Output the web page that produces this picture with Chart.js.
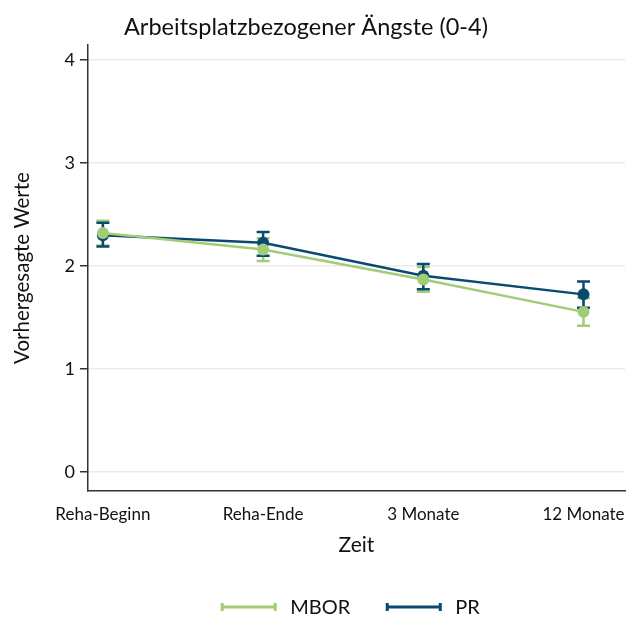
<!DOCTYPE html>
<html>
<head>
<meta charset="utf-8">
<script src="https://cdn.jsdelivr.net/npm/chart.js@4.4.0/dist/chart.umd.min.js"></script>
<style>
  html, body { margin: 0; padding: 0; background: #fff; }
  #wrap { width: 631px; height: 618px; }
</style>
</head>
<body>
<div id="wrap"><canvas id="chart"></canvas></div>
<script>
// Daten
const zeitpunkte = ['Reha-Beginn', 'Reha-Ende', '3 Monate', '12 Monate'];
const mborWerte = [2.32, 2.16, 1.87, 1.555];
const mborUnten = [2.20, 2.05, 1.75, 1.42];
const mborOben  = [2.44, 2.27, 1.99, 1.69];
const prWerte   = [2.30, 2.225, 1.905, 1.725];
const prUnten   = [2.19, 2.10, 1.775, 1.595];
const prOben    = [2.42, 2.33, 2.02, 1.85];
const yTicks = [0, 1, 2, 3, 4];

const GRUEN = '#a2cc76';
const BLAU = '#0b4a70';
const FONT = 'Lato, "Open Sans", sans-serif';

function punkte(werte) {
  return werte.map((v, i) => ({ x: i, y: v }));
}

// Fehlerbalken (rcap) über die Skalen zeichnen
const fehlerbalken = {
  id: 'fehlerbalken',
  beforeDatasetsDraw(chart) {
    const ctx = chart.ctx;
    const yScale = chart.scales.y;
    chart.data.datasets.forEach((ds, di) => {
      const meta = chart.getDatasetMeta(di);
      ctx.save();
      ctx.strokeStyle = ds.borderColor;
      ctx.lineWidth = 2.5;
      meta.data.forEach((pt, i) => {
        const yLo = yScale.getPixelForValue(ds.unten[i]);
        const yHi = yScale.getPixelForValue(ds.oben[i]);
        ctx.beginPath();
        ctx.moveTo(pt.x, yLo); ctx.lineTo(pt.x, yHi);
        ctx.moveTo(pt.x - 6.5, yLo); ctx.lineTo(pt.x + 6.5, yLo);
        ctx.moveTo(pt.x - 6.5, yHi); ctx.lineTo(pt.x + 6.5, yHi);
        ctx.stroke();
      });
      ctx.restore();
    });
  }
};

// Titel etwas links der Mitte, wie im Original
const titel = {
  id: 'titel',
  afterDraw(chart) {
    const ctx = chart.ctx;
    ctx.save();
    ctx.font = '23.5px ' + FONT;
    ctx.fillStyle = '#111';
    ctx.textAlign = 'center';
    ctx.textBaseline = 'middle';
    ctx.fillText('Arbeitsplatzbezogener Ängste (0-4)', 306, 27);
    ctx.restore();
  }
};

// Legende unten, im Stil der Fehlerbalken
const legende = {
  id: 'legende',
  afterDraw(chart) {
    const ctx = chart.ctx;
    ctx.save();
    ctx.font = '20px ' + FONT;
    ctx.textBaseline = 'middle';
    const y = 607, linie = 55, abstand = 14, lueckeItems = 36;
    const items = chart.data.datasets.map(ds => ({ text: ds.label, farbe: ds.borderColor, w: ctx.measureText(ds.label).width }));
    let total = 0;
    items.forEach((it, i) => { total += linie + abstand + it.w + (i < items.length - 1 ? lueckeItems : 0); });
    let x = chart.width / 2 + 35 - total / 2;
    items.forEach(it => {
      ctx.strokeStyle = it.farbe;
      ctx.lineWidth = 3;
      ctx.beginPath();
      ctx.moveTo(x, y); ctx.lineTo(x + linie, y);
      ctx.moveTo(x + 1, y - 4); ctx.lineTo(x + 1, y + 4);
      ctx.moveTo(x + linie - 1, y - 4); ctx.lineTo(x + linie - 1, y + 4);
      ctx.stroke();
      ctx.fillStyle = '#111';
      ctx.fillText(it.text, x + linie + abstand, y + 1);
      x += linie + abstand + it.w + lueckeItems;
    });
    ctx.restore();
  }
};

const ctx = document.getElementById('chart').getContext('2d');
new Chart(ctx, {
  type: 'line',
  data: {
    datasets: [
      {
        label: 'MBOR', data: punkte(mborWerte), unten: mborUnten, oben: mborOben,
        borderColor: GRUEN, backgroundColor: GRUEN, pointBackgroundColor: GRUEN,
        borderWidth: 2.5, pointRadius: 6, pointBorderWidth: 0, tension: 0
      },
      {
        label: 'PR', data: punkte(prWerte), unten: prUnten, oben: prOben,
        borderColor: BLAU, backgroundColor: BLAU, pointBackgroundColor: BLAU,
        borderWidth: 2.5, pointRadius: 6, pointBorderWidth: 0, tension: 0
      }
    ]
  },
  options: {
    responsive: true, maintainAspectRatio: false, animation: false,
    layout: { padding: { left: 0, right: 1, top: 45, bottom: 57 } },
    plugins: {
      legend: { display: false },
      tooltip: { enabled: false },
      title: { display: false }
    },
    scales: {
      x: {
        type: 'linear', min: -0.093, max: 3.259,
        afterBuildTicks: s => { s.ticks = zeitpunkte.map((_, i) => ({ value: i })); },
        afterFit: s => { s.height = 70; },
        grid: { display: false },
        border: { display: true, color: '#333', width: 1.5 },
        ticks: { color: '#111', font: { family: FONT, size: 17 }, padding: 5, maxRotation: 0, autoSkip: false,
                 callback: v => zeitpunkte[v] },
        title: { display: true, text: 'Zeit', color: '#111', font: { family: FONT, size: 21 }, padding: { top: 0, bottom: 3 } }
      },
      y: {
        min: -0.184, max: 4.146,
        afterBuildTicks: s => { s.ticks = yTicks.map(v => ({ value: v })); },
        afterFit: s => { s.width = 88; },
        grid: { color: '#ebebeb', lineWidth: 1.5, tickColor: '#333', tickLength: 8, tickWidth: 1.5 },
        border: { display: true, color: '#333', width: 1.5 },
        ticks: { color: '#111', font: { family: FONT, size: 18 }, padding: 5 },
        title: { display: true, text: 'Vorhergesagte Werte', color: '#111', font: { family: FONT, size: 20.5 }, padding: { top: 10, bottom: 0 } }
      }
    }
  },
  plugins: [fehlerbalken, titel, legende]
});
</script>
</body>
</html>
